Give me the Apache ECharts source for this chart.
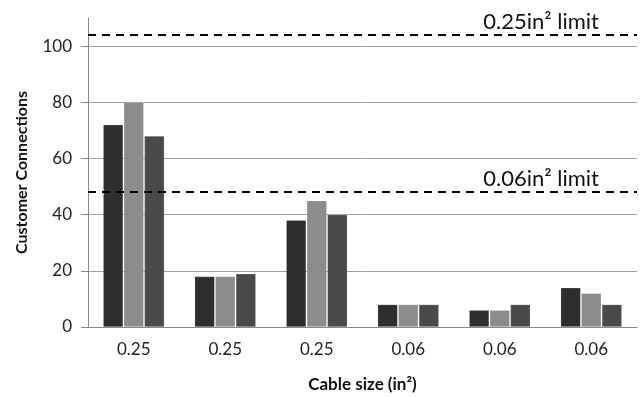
<!DOCTYPE html>
<html>
<head>
<meta charset="utf-8">
<script src="https://cdn.jsdelivr.net/npm/echarts@6/dist/echarts.min.js"></script>
<style>html,body{margin:0;padding:0;background:#fff}#c{width:643px;height:398px}</style>
</head>
<body>
<div id="c"></div>
<script>
var categories = ['0.25', '0.25', '0.25', '0.06', '0.06', '0.06'];
var seriesA = [72, 18, 38, 8, 6, 14];
var seriesB = [80, 18, 45, 8, 6, 12];
var seriesC = [68, 19, 40, 8, 8, 8];
var yTicks = [0, 20, 40, 60, 80, 100];
var limits = [
  { value: 104, label: '0.25in\u00B2 limit' },
  { value: 48, label: '0.06in\u00B2 limit' }
];

var FONT = 'Lato';
var chart = echarts.init(document.getElementById('c'), null, { renderer: 'canvas' });

function bar(data, color, withLimits) {
  var s = {
    type: 'bar',
    data: data,
    barWidth: 20,
    barGap: '3%',
    itemStyle: { color: color, borderColor: 'rgba(255,255,255,0.3)', borderWidth: 0.6 },
    emphasis: { disabled: true },
    silent: true
  };
  if (withLimits) {
    s.markLine = {
      symbol: 'none',
      silent: true,
      animation: false,
      lineStyle: { color: '#000', type: [8, 6], width: 2 },
      label: {
        show: true,
        position: 'insideEndTop',
        distance: [38, 2],
        fontFamily: FONT,
        fontSize: 22,
        color: '#111',
        formatter: function (p) { return p.data.name; }
      },
      data: limits.map(function (l) { return { yAxis: l.value, name: l.label }; })
    };
  }
  return s;
}

chart.setOption({
  animation: false,
  grid: { left: 88, right: 6, top: 18, bottom: 69, containLabel: false },
  xAxis: {
    type: 'category',
    data: categories,
    axisLine: { lineStyle: { color: '#888', width: 1 } },
    axisTick: { show: false },
    axisLabel: { fontFamily: FONT, fontSize: 17, color: '#222', margin: 14 },
    name: 'Cable size (in\u00B2)',
    nameLocation: 'middle',
    nameGap: 49,
    nameTextStyle: { fontFamily: FONT, fontSize: 17, fontWeight: 'bold', color: '#111' }
  },
  yAxis: {
    type: 'value',
    min: 0,
    max: 110,
    interval: 20,
    axisLine: { show: true, lineStyle: { color: '#888', width: 1 } },
    axisTick: { show: true, length: 7, lineStyle: { color: '#888' }, customValues: yTicks },
    axisLabel: { fontFamily: FONT, fontSize: 17, color: '#222', margin: 16, customValues: yTicks },
    splitLine: { show: true, lineStyle: { color: '#a0a0a0', width: 1 } },
    name: 'Customer Connections',
    nameLocation: 'middle',
    nameGap: 58,
    nameTextStyle: { fontFamily: FONT, fontSize: 16, fontWeight: 'bold', color: '#111' }
  },
  series: [
    bar(seriesA, '#2e2e2e', false),
    bar(seriesB, '#8c8c8c', false),
    bar(seriesC, '#4a4a4a', true)
  ]
});
</script>
</body>
</html>
